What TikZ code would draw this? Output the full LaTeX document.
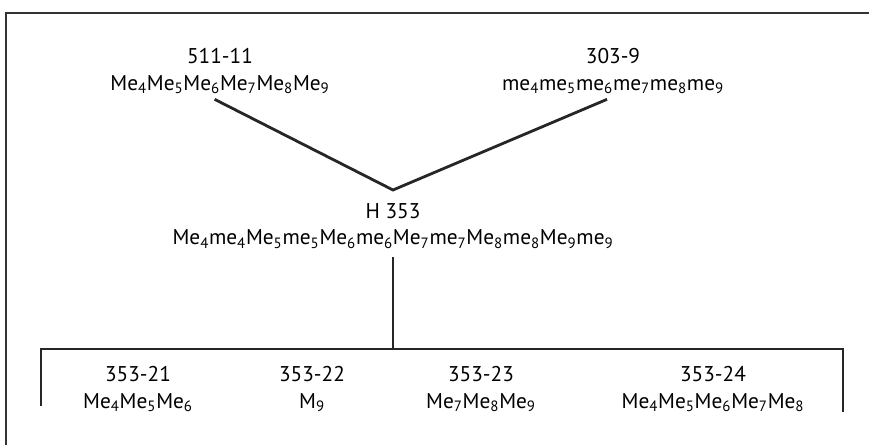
\documentclass[tikz,border=0pt]{standalone}
\usepackage{fontspec}
\setmainfont{PT Sans}
\usetikzlibrary{positioning}

\newcommand{\Mex}[1]{Me\textsubscript{#1}}
\newcommand{\mex}[1]{me\textsubscript{#1}}

\begin{document}
\begin{tikzpicture}[
    x=0.75pt, y=-0.75pt,
    line/.style={line width=2.1pt, draw=black!85},
    frame/.style={line width=2.2pt, draw=black!80},
    strain/.style={inner sep=0pt, align=center, font=\fontsize{16}{20}\selectfont}
]
    \useasboundingbox (0,0) rectangle (869,445);
    \draw[frame] (6,445) -- (6,13) -- (869,13);

    % parents and hybrid
    \node[strain] (p1) at (220,71) {511-11\\ \Mex{4}\Mex{5}\Mex{6}\Mex{7}\Mex{8}\Mex{9}};
    \node[strain] (p2) at (613,71) {303-9\\ \mex{4}\mex{5}\mex{6}\mex{7}\mex{8}\mex{9}};
    \node[strain] (h353) at (393,226) {H 353\\ \Mex{4}\mex{4}\Mex{5}\mex{5}\Mex{6}\mex{6}\Mex{7}\mex{7}\Mex{8}\mex{8}\Mex{9}\mex{9}};

    % progeny
    \node[strain] (s21) at (138,389) {353-21\\ \Mex{4}\Mex{5}\Mex{6}};
    \node[strain] (s22) at (312,389) {353-22\\ M\textsubscript{9}};
    \node[strain] (s23) at (481,389) {353-23\\ \Mex{7}\Mex{8}\Mex{9}};
    \node[strain] (s24) at (713,389) {353-24\\ \Mex{4}\Mex{5}\Mex{6}\Mex{7}\Mex{8}};

    \coordinate (cross) at (393,190);
    \coordinate (split) at (393,349);
    \coordinate (barl) at (41,349);
    \coordinate (barr) at (843,349);
    \coordinate (endl) at (41,406);
    \coordinate (endr) at (843,412);

    \draw[line] ([xshift=-4pt,yshift=-4pt]p1.south) -- (cross) -- ([xshift=-4.5pt,yshift=-4pt]p2.south);
    \draw[line] ([yshift=-6pt]h353.south) -- (split);
    \draw[line] (endl) -- (barl) -- (barr) -- (endr);
\end{tikzpicture}
\end{document}
